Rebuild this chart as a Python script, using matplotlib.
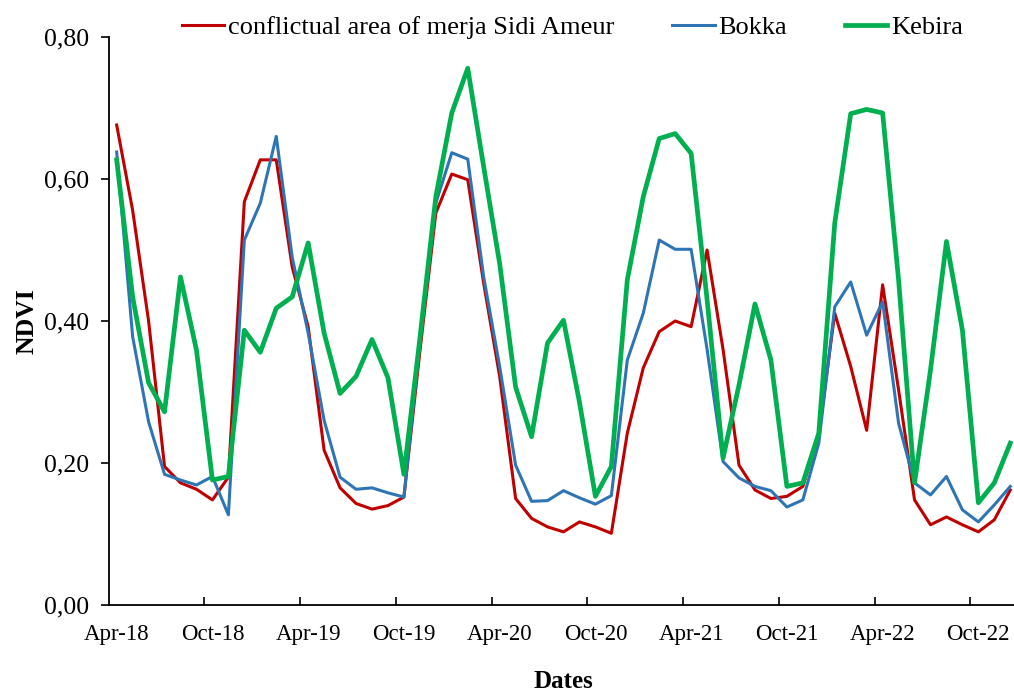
import matplotlib.pyplot as plt
import matplotlib.ticker as ticker
import numpy as np

# monthly NDVI, Apr-18 .. Dec-22 (57 months)
months = [
    "Apr-18", "May-18", "Jun-18", "Jul-18", "Aug-18", "Sep-18", "Oct-18", "Nov-18", "Dec-18",
    "Jan-19", "Feb-19", "Mar-19", "Apr-19", "May-19", "Jun-19", "Jul-19", "Aug-19", "Sep-19",
    "Oct-19", "Nov-19", "Dec-19", "Jan-20", "Feb-20", "Mar-20", "Apr-20", "May-20", "Jun-20",
    "Jul-20", "Aug-20", "Sep-20", "Oct-20", "Nov-20", "Dec-20", "Jan-21", "Feb-21", "Mar-21",
    "Apr-21", "May-21", "Jun-21", "Jul-21", "Aug-21", "Sep-21", "Oct-21", "Nov-21", "Dec-21",
    "Jan-22", "Feb-22", "Mar-22", "Apr-22", "May-22", "Jun-22", "Jul-22", "Aug-22", "Sep-22",
    "Oct-22", "Nov-22", "Dec-22",
]

sidi_ameur = [
    0.676, 0.556, 0.400, 0.195, 0.172, 0.163, 0.148, 0.180, 0.568,
    0.627, 0.627, 0.476, 0.392, 0.218, 0.165, 0.143, 0.135, 0.140,
    0.152, 0.357, 0.552, 0.607, 0.599, 0.453, 0.322, 0.150, 0.122,
    0.110, 0.103, 0.117, 0.110, 0.101, 0.242, 0.334, 0.385, 0.400,
    0.392, 0.500, 0.360, 0.197, 0.162, 0.150, 0.153, 0.167, 0.240,
    0.411, 0.336, 0.246, 0.451, 0.303, 0.148, 0.113, 0.124, 0.113,
    0.103, 0.120, 0.162,
]

bokka = [
    0.638, 0.378, 0.258, 0.184, 0.176, 0.169, 0.181, 0.127, 0.514,
    0.566, 0.660, 0.490, 0.383, 0.260, 0.180, 0.163, 0.165, 0.158,
    0.152, 0.370, 0.566, 0.637, 0.628, 0.462, 0.336, 0.197, 0.146,
    0.147, 0.161, 0.151, 0.142, 0.154, 0.345, 0.411, 0.514, 0.501,
    0.501, 0.360, 0.202, 0.179, 0.167, 0.161, 0.138, 0.148, 0.228,
    0.420, 0.455, 0.380, 0.427, 0.256, 0.172, 0.155, 0.181, 0.134,
    0.117, 0.141, 0.167,
]

kebira = [
    0.627, 0.434, 0.313, 0.272, 0.462, 0.359, 0.176, 0.181, 0.387,
    0.356, 0.418, 0.434, 0.510, 0.383, 0.298, 0.322, 0.374, 0.320,
    0.184, 0.375, 0.575, 0.693, 0.756, 0.617, 0.481, 0.307, 0.237,
    0.369, 0.401, 0.286, 0.153, 0.195, 0.458, 0.575, 0.657, 0.664,
    0.636, 0.430, 0.207, 0.310, 0.424, 0.345, 0.167, 0.172, 0.242,
    0.538, 0.692, 0.698, 0.693, 0.458, 0.172, 0.331, 0.512, 0.387,
    0.144, 0.172, 0.228,
]

y_ticks = [0.0, 0.2, 0.4, 0.6, 0.8]

plt.rcParams["font.family"] = ["Liberation Serif", "DejaVu Serif"]

x = np.arange(len(months))

fig = plt.figure(figsize=(10.14, 6.93), dpi=100)
ax = fig.add_axes([0.1072, 0.127, 0.897, 0.8196])

ax.plot(x, sidi_ameur, color="#C00000", linewidth=2.2, solid_joinstyle="round",
        label="conflictual area of merja Sidi Ameur")
ax.plot(x, bokka, color="#2E75B6", linewidth=2.2, solid_joinstyle="round", label="Bokka")
ax.plot(x, kebira, color="#00B050", linewidth=3.4, solid_joinstyle="round", label="Kebira")

ax.set_xlim(-0.5, len(months) - 0.5)
ax.set_ylim(0, 0.8)

# labels sit in the middle of a category, tick marks on its left edge
ax.set_xticks(x[::6])
ax.set_xticklabels(months[::6])
ax.set_xticks(x[6::6] - 0.5, minor=True)
ax.tick_params(axis="x", which="major", length=0, pad=14, labelsize=16.5)
ax.tick_params(axis="x", which="minor", length=6, width=1.2, direction="in")

ax.set_yticks(y_ticks)
ax.yaxis.set_major_formatter(ticker.FuncFormatter(lambda v, p: f"{v:.2f}".replace(".", ",")))
ax.tick_params(axis="y", length=6, width=1.2, direction="out", pad=8, labelsize=18.5)

for side in ("top", "right"):
    ax.spines[side].set_visible(False)
for side in ("left", "bottom"):
    ax.spines[side].set_linewidth(1.3)

ax.set_xlabel("Dates", fontsize=18, fontweight="bold", labelpad=18)
ax.set_ylabel("NDVI", fontsize=18.5, fontweight="bold", labelpad=4)

fig.legend(loc="upper center", bbox_to_anchor=(0.5646, 1.012), ncol=3, frameon=False,
           fontsize=19, handlelength=1.6, handletextpad=0.15, columnspacing=2.2)

fig.savefig("out.png")
plt.close(fig)
